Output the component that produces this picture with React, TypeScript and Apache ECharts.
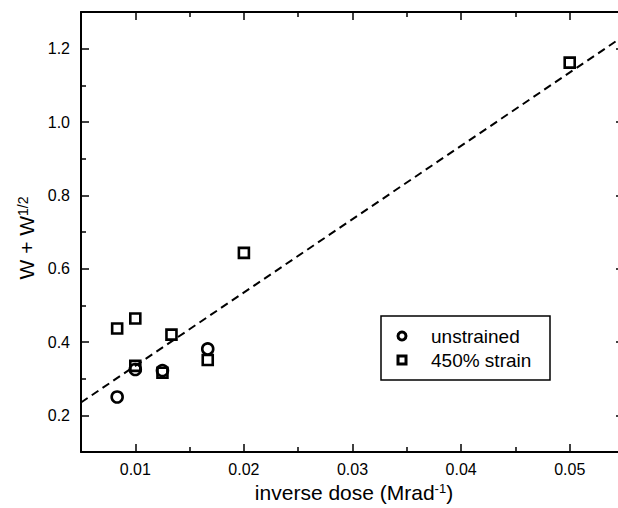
import React, { useEffect, useRef } from "react";
import * as echarts from "echarts";

const unstrained: [number, number][] = [
  [0.00833, 0.25],
  [0.01, 0.325],
  [0.0125, 0.322],
  [0.01667, 0.381],
];
const strain450: [number, number][] = [
  [0.00833, 0.437],
  [0.01, 0.464],
  [0.01, 0.335],
  [0.0125, 0.316],
  [0.01333, 0.42],
  [0.01667, 0.351],
  [0.02, 0.643],
  [0.05, 1.162],
];
const fitLine: [number, number][] = [
  [0.005, 0.235],
  [0.055, 1.235],
];
const xMajor = [0.01, 0.02, 0.03, 0.04, 0.05];
const xMinor = [0.015, 0.025, 0.035, 0.045];
const yMajor = [0.2, 0.4, 0.6, 0.8, 1.0, 1.2];
const yMinor = [0.3, 0.5, 0.7, 0.9, 1.1];
const legendNames = ["unstrained", "450% strain"];

const FONT = "Liberation Sans, Arial, sans-serif";

export default function App() {
  const ref = useRef<HTMLDivElement>(null);
  useEffect(() => {
    if (!ref.current) return;
    const chart = echarts.init(ref.current, null, { renderer: "svg" });
    const xAx = (pos: string, ticks: number[], len: number, line: boolean, label: boolean) => ({
      type: "value",
      position: pos,
      min: 0.005,
      max: 0.055,
      splitLine: { show: false },
      axisLine: { show: line, onZero: false, lineStyle: { color: "#000", width: 2 } },
      axisTick: {
        show: true,
        inside: true,
        length: len,
        customValues: ticks,
        lineStyle: { color: "#000", width: 1.5 },
      },
      axisLabel: {
        show: label,
        customValues: ticks,
        margin: 9,
        color: "#000",
        fontSize: 16,
        fontFamily: FONT,
        formatter: (v: number) => v.toFixed(2),
      },
    });
    const yAx = (pos: string, ticks: number[], len: number, line: boolean, label: boolean) => ({
      type: "value",
      position: pos,
      min: 0.1,
      max: 1.3,
      splitLine: { show: false },
      axisLine: { show: line, onZero: false, lineStyle: { color: "#000", width: 2 } },
      axisTick: {
        show: true,
        inside: true,
        length: len,
        customValues: ticks,
        lineStyle: { color: "#000", width: 1.5 },
      },
      axisLabel: {
        show: label,
        customValues: ticks,
        margin: 11,
        color: "#000",
        fontSize: 16,
        fontFamily: FONT,
        formatter: (v: number) => v.toFixed(1),
      },
    });
    chart.setOption({
      animation: false,
      backgroundColor: "#fff",
      grid: { left: 81, top: 12, width: 543, height: 440, containLabel: false },
      xAxis: [
        xAx("bottom", xMajor, 8, true, true),
        xAx("bottom", xMinor, 5, false, false),
        xAx("top", xMajor, 8, true, false),
        xAx("top", xMinor, 5, false, false),
      ],
      yAxis: [
        yAx("left", yMajor, 8, true, true),
        yAx("left", yMinor, 5, false, false),
        yAx("right", yMajor, 8, true, false),
        yAx("right", yMinor, 5, false, false),
      ],
      series: [
        {
          type: "line",
          name: "fit",
          data: fitLine,
          xAxisIndex: 0,
          yAxisIndex: 0,
          showSymbol: false,
          symbol: "none",
          lineStyle: { color: "#000", width: 2, type: [8, 5] },
          silent: true,
        },
        {
          type: "scatter",
          name: legendNames[0],
          data: unstrained,
          xAxisIndex: 0,
          yAxisIndex: 0,
          symbol: "circle",
          symbolSize: 11,
          itemStyle: { color: "rgba(0,0,0,0)", borderColor: "#000", borderWidth: 2.6, opacity: 1 },
        },
        {
          type: "scatter",
          name: legendNames[1],
          data: strain450,
          xAxisIndex: 0,
          yAxisIndex: 0,
          symbol: "rect",
          symbolSize: 10,
          itemStyle: { color: "rgba(0,0,0,0)", borderColor: "#000", borderWidth: 2.6, opacity: 1 },
        },
      ],
      graphic: [
        {
          type: "rect",
          shape: { x: 381, y: 316, width: 169, height: 64 },
          style: { fill: "#fff", stroke: "#000", lineWidth: 1.5 },
        },
        {
          type: "circle",
          shape: { cx: 402, cy: 336, r: 4 },
          style: { fill: "none", stroke: "#000", lineWidth: 3 },
        },
        {
          type: "rect",
          shape: { x: 398, y: 356, width: 8, height: 8 },
          style: { fill: "none", stroke: "#000", lineWidth: 3 },
        },
        {
          type: "text",
          x: 431,
          y: 336,
          style: { text: legendNames[0], font: `19px ${FONT}`, fill: "#000", verticalAlign: "middle" },
        },
        {
          type: "text",
          x: 431,
          y: 360,
          style: { text: legendNames[1], font: `19px ${FONT}`, fill: "#000", verticalAlign: "middle" },
        },
        {
          type: "text",
          x: 354,
          y: 492,
          style: {
            text: "{m|inverse dose (Mrad}{s|-1}{m|)}",
            align: "center",
            verticalAlign: "middle",
            fill: "#000",
            rich: {
              m: { fontSize: 21, fontFamily: FONT, fill: "#000" },
              s: { fontSize: 13, fontFamily: FONT, fill: "#000", verticalAlign: "top" },
            },
          },
        },
        {
          type: "text",
          x: 26,
          y: 238,
          rotation: Math.PI / 2,
          style: {
            text: "{m|W + W}{s|1/2}",
            align: "center",
            verticalAlign: "middle",
            fill: "#000",
            rich: {
              m: { fontSize: 21, fontFamily: FONT, fill: "#000" },
              s: { fontSize: 14, fontFamily: FONT, fill: "#000", verticalAlign: "top" },
            },
          },
        },
      ],
    });
    return () => chart.dispose();
  }, []);
  return (
    <div style={{ width: 618, height: 508, position: "absolute", left: 0, top: 0, overflow: "hidden" }}>
      <div ref={ref} style={{ width: 632, height: 508 }} />
    </div>
  );
}
